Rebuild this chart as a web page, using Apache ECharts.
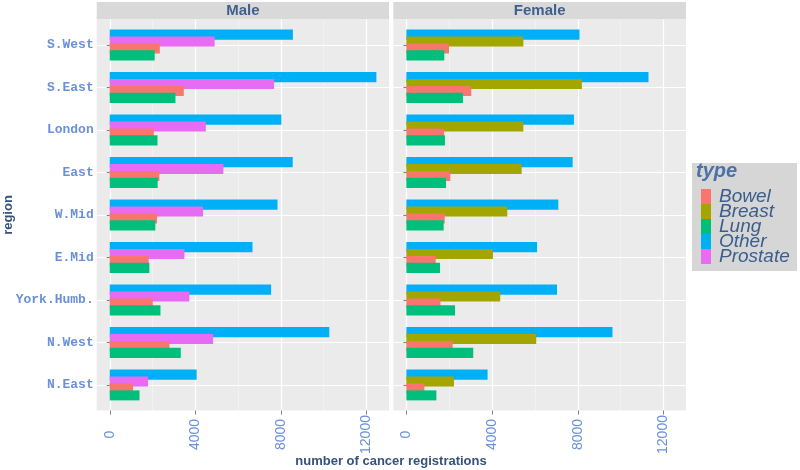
<!DOCTYPE html>
<html>
<head>
<meta charset="utf-8">
<script src="https://cdn.jsdelivr.net/npm/echarts@6/dist/echarts.min.js"></script>
<style>html,body{margin:0;padding:0;background:#fff}#chart{width:800px;height:470px}</style>
</head>
<body>
<div id="chart"></div>
<script>
// ---- data (top-to-bottom order as displayed) ----
const regions = ['S.West','S.East','London','East','W.Mid','E.Mid','York.Humb.','N.West','N.East'];
const types = ['Bowel','Breast','Lung','Other','Prostate'];
const xTicks = [0, 4000, 8000, 12000];
const xMinorTicks = [2000, 6000, 10000];

const maleOther    = [8560, 12460, 8020, 8550, 7840, 6670, 7540, 10260, 4060];
const maleProstate = [4900, 7680, 4490, 5310, 4360, 3490, 3720, 4830, 1790];
const maleBowel    = [2340, 3460, 2060, 2320, 2210, 1820, 2010, 2790, 1090];
const maleLung     = [2100, 3070, 2230, 2240, 2130, 1850, 2370, 3320, 1390];

const femaleOther  = [8080, 11300, 7820, 7760, 7090, 6100, 7030, 9620, 3790];
const femaleBreast = [5460, 8190, 5460, 5380, 4710, 4040, 4380, 6060, 2220];
const femaleBowel  = [1990, 3030, 1760, 2050, 1790, 1370, 1590, 2160, 840];
const femaleLung   = [1770, 2640, 1800, 1850, 1740, 1570, 2270, 3120, 1400];

const colors = {Bowel:'#F8766D', Breast:'#A3A500', Lung:'#00BF7D', Other:'#00B0F6', Prostate:'#E76BF3'};

// ---- layout ----
const panelTop = 19.5, panelBottom = 410.5;
const panelH = panelBottom - panelTop;
const band = panelH / 9.2;
const panels = [{left: 96.7, width: 292.3, name: 'Male'}, {left: 393.3, width: 292.7, name: 'Female'}];
const xMin = -610, xMax = 13050;
const labelColor = '#6A8FDB';
const titleColor = '#34527C';

const chart = echarts.init(document.getElementById('chart'), null, {renderer: 'canvas'});

const grids = [], xAxes = [], yAxes = [], series = [];
panels.forEach((p, i) => {
  grids.push({left: p.left, top: panelTop, width: p.width, height: panelH, show: true,
    backgroundColor: '#EBEBEB', borderWidth: 0, containLabel: false});
});
panels.forEach((p, i) => {
  grids.push({left: p.left, top: panelTop + band * 0.1, width: p.width, height: band * 9, show: false, containLabel: false});
});
// background grids: major + minor vertical gridlines
panels.forEach((p, i) => {
  xAxes.push({type: 'value', gridIndex: i, min: xMin, max: xMax, position: 'bottom',
    axisLine: {show: false},
    axisTick: {show: true, customValues: xTicks, length: 4, lineStyle: {color: '#7F7F7F', width: 1}},
    axisLabel: {show: true, customValues: xTicks, rotate: 90, align: 'center', verticalAlign: 'middle', margin: 24,
      formatter: v => String(v),
      color: labelColor, fontSize: 14, fontFamily: 'Liberation Sans, Arial, sans-serif'},
    splitLine: {show: true, lineStyle: {color: '#FFFFFF', width: 1.2}}
  });
  xAxes.push({type: 'value', gridIndex: i, min: xMin, max: xMax, position: 'bottom',
    axisLine: {show: false},
    axisTick: {show: false, customValues: xMinorTicks},
    axisLabel: {show: false, customValues: xMinorTicks},
    splitLine: {show: true, lineStyle: {color: '#F6F6F6', width: 0.6}}
  });
  yAxes.push({type: 'value', gridIndex: i, min: 0, max: 1, show: false, splitLine: {show: false}});
});
// data grids
panels.forEach((p, i) => {
  xAxes.push({type: 'value', gridIndex: 2 + i, min: xMin, max: xMax, show: false, splitLine: {show: false}});
  yAxes.push({type: 'category', gridIndex: 2 + i, data: regions, inverse: true,
    axisLine: {show: false},
    axisTick: {show: true, alignWithLabel: true, length: 3, lineStyle: {color: '#7F7F7F'}},
    axisLabel: {show: i === 0, margin: 3, color: labelColor, fontSize: 13, fontWeight: 'bold',
      fontFamily: 'Liberation Mono, Courier New, monospace'},
    splitLine: {show: true, alignWithLabel: true, lineStyle: {color: '#FFFFFF', width: 1.2}}
  });
});

function addBar(name, data, panelIdx) {
  series.push({type: 'bar', name: name, data: data, xAxisIndex: 4 + panelIdx, yAxisIndex: 2 + panelIdx,
    barWidth: '23.6%', barGap: '-31%', itemStyle: {color: colors[name]}, animation: false});
}
addBar('Other', maleOther, 0);
addBar('Prostate', maleProstate, 0);
addBar('Bowel', maleBowel, 0);
addBar('Lung', maleLung, 0);
addBar('Other', femaleOther, 1);
addBar('Breast', femaleBreast, 1);
addBar('Bowel', femaleBowel, 1);
addBar('Lung', femaleLung, 1);

const graphics = [];
panels.forEach(p => {
  graphics.push({type: 'rect', shape: {x: p.left, y: 2, width: p.width, height: panelTop - 2}, style: {fill: '#D9D9D9'}, silent: true, z: -1});
  graphics.push({type: 'text', x: p.left + p.width / 2, y: (2 + panelTop) / 2 + 0.5,
    style: {text: p.name, fill: '#3F5F8C', font: 'bold 15px "Liberation Sans", Arial, sans-serif', textAlign: 'center', textVerticalAlign: 'middle'}});
});
// legend box
graphics.push({type: 'rect', shape: {x: 692, y: 163, width: 105, height: 108}, style: {fill: '#D6D6D6'}, silent: true, z: -1});
graphics.push({type: 'text', x: 696, y: 171,
  style: {text: 'type', fill: '#4A72A6', font: 'italic bold 20px "Liberation Sans", Arial, sans-serif', textVerticalAlign: 'middle'}});
// axis titles
graphics.push({type: 'text', x: 391, y: 461,
  style: {text: 'number of cancer registrations', fill: titleColor, font: 'bold 13px "Liberation Sans", Arial, sans-serif', textAlign: 'center', textVerticalAlign: 'middle'}});
graphics.push({type: 'text', x: 8, y: 215, rotation: Math.PI / 2,
  style: {text: 'region', fill: titleColor, font: 'bold 13px "Liberation Sans", Arial, sans-serif', textAlign: 'center', textVerticalAlign: 'middle'}});

chart.setOption({
  backgroundColor: '#FFFFFF',
  animation: false,
  grid: grids,
  xAxis: xAxes,
  yAxis: yAxes,
  series: series,
  legend: {
    data: types.map(t => ({name: t, itemStyle: {color: colors[t]}})),
    orient: 'vertical', left: 701, top: 187, padding: 0,
    itemWidth: 10, itemHeight: 15, itemGap: -4, icon: 'rect', selectedMode: false,
    textStyle: {fontSize: 19, fontStyle: 'italic', color: '#3B5E8C', fontFamily: 'Liberation Sans, Arial, sans-serif', padding: [0, 0, 0, 3]}
  },
  graphic: graphics
});
</script>
</body>
</html>
